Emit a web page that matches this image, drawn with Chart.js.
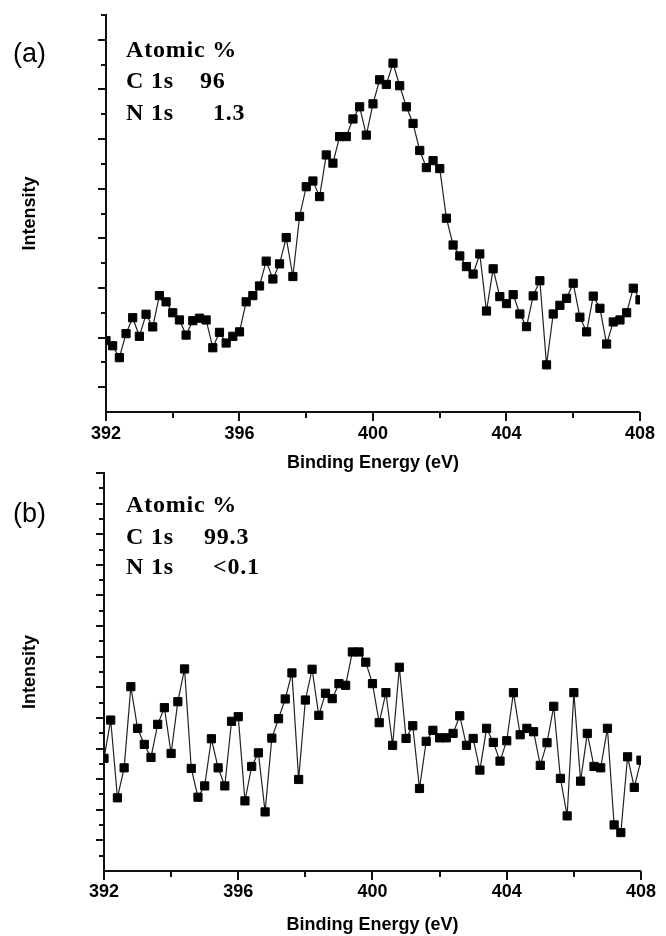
<!DOCTYPE html>
<html>
<head>
<meta charset="utf-8">
<title>XPS - Binding Energy</title>
<script src="https://cdn.jsdelivr.net/npm/chart.js@4.4.1/dist/chart.umd.min.js"></script>
<style>
	html, body { margin: 0; padding: 0; background: #fff; }
	#page { position: relative; width: 666px; height: 936px; overflow: hidden; }
	.box { position: absolute; left: 0; width: 666px; }
	.panel { position: absolute; font-family: 'Liberation Sans', Arial, sans-serif; font-size: 27px; line-height: 1; color: #000; }
	.note { position: absolute; font-family: 'Liberation Serif', 'Times New Roman', serif; font-size: 24px; font-weight: bold; line-height: 1; letter-spacing: 0.8px; color: #000; white-space: pre; }
</style>
</head>
<body>
<div id="page">
	<div class="box" style="top:0;height:480px;"><canvas id="chart-a"></canvas></div>
	<div class="box" style="top:460px;height:476px;"><canvas id="chart-b"></canvas></div>

	<div class="panel" style="left:13px;top:40px;">(a)</div>
	<div class="note" style="left:126px;top:37px;">Atomic %</div>
	<div class="note" style="left:126px;top:68px;">C 1s</div>
	<div class="note" style="left:200px;top:68px;">96</div>
	<div class="note" style="left:126px;top:100px;">N 1s</div>
	<div class="note" style="left:213px;top:100px;">1.3</div>

	<div class="panel" style="left:13px;top:500px;">(b)</div>
	<div class="note" style="left:126px;top:492px;">Atomic %</div>
	<div class="note" style="left:126px;top:524px;">C 1s</div>
	<div class="note" style="left:204px;top:524px;">99.3</div>
	<div class="note" style="left:126px;top:554px;">N 1s</div>
	<div class="note" style="left:213px;top:554px;">&lt;0.1</div>
</div>

<script>
// binding energy (eV), 0.2 eV steps
const energy = [
	392.0, 392.2, 392.4, 392.6, 392.8, 393.0, 393.2, 393.4, 393.6, 393.8,
	394.0, 394.2, 394.4, 394.6, 394.8, 395.0, 395.2, 395.4, 395.6, 395.8,
	396.0, 396.2, 396.4, 396.6, 396.8, 397.0, 397.2, 397.4, 397.6, 397.8,
	398.0, 398.2, 398.4, 398.6, 398.8, 399.0, 399.2, 399.4, 399.6, 399.8,
	400.0, 400.2, 400.4, 400.6, 400.8, 401.0, 401.2, 401.4, 401.6, 401.8,
	402.0, 402.2, 402.4, 402.6, 402.8, 403.0, 403.2, 403.4, 403.6, 403.8,
	404.0, 404.2, 404.4, 404.6, 404.8, 405.0, 405.2, 405.4, 405.6, 405.8,
	406.0, 406.2, 406.4, 406.6, 406.8, 407.0, 407.2, 407.4, 407.6, 407.8,
	408.0
];

// panel (a) intensity, arbitrary units (axis 0..16)
const intensityA = [
	2.88, 2.67, 2.19, 3.16, 3.80, 3.05, 3.94, 3.43, 4.69, 4.44,
	4.00, 3.71, 3.10, 3.68, 3.78, 3.71, 2.59, 3.21, 2.78, 3.05,
	3.23, 4.44, 4.69, 5.08, 6.08, 5.36, 5.97, 7.03, 5.46, 7.88,
	9.08, 9.31, 8.68, 10.36, 10.03, 11.10, 11.10, 11.81, 12.30, 11.16,
	12.42, 13.39, 13.20, 14.06, 13.15, 12.30, 11.63, 10.54, 9.85, 10.13,
	9.81, 7.81, 6.73, 6.29, 5.86, 5.56, 6.37, 4.07, 5.77, 4.65,
	4.37, 4.73, 3.95, 3.44, 4.68, 5.29, 1.90, 3.95, 4.30, 4.58,
	5.19, 3.82, 3.23, 4.67, 4.18, 2.74, 3.63, 3.71, 4.00, 4.99,
	4.52
];

// panel (b) intensity, arbitrary units (axis 0..26)
const intensityB = [
	7.36, 9.86, 4.78, 6.74, 12.04, 9.32, 8.27, 7.42, 9.58, 10.67,
	7.68, 11.06, 13.20, 6.70, 4.82, 5.56, 8.64, 6.74, 5.56, 9.78,
	10.08, 4.58, 6.83, 7.72, 3.86, 8.68, 9.95, 11.24, 12.94, 5.98,
	11.17, 13.18, 10.17, 11.61, 11.26, 12.24, 12.13, 14.31, 14.31, 13.64,
	12.24, 9.69, 11.65, 8.21, 13.31, 8.66, 9.49, 5.39, 8.47, 9.19,
	8.70, 8.70, 8.99, 10.14, 8.21, 8.66, 6.59, 9.32, 8.40, 7.18,
	8.51, 11.65, 8.90, 9.32, 9.10, 6.90, 8.38, 10.76, 6.05, 3.60,
	11.65, 5.87, 8.99, 6.83, 6.74, 9.32, 3.01, 2.51, 7.46, 5.46,
	7.24
];

const FONT = "'Liberation Sans', Arial, sans-serif";

// outward tick marks, long ones on the labelled / major positions
const tickMarks = {
	id: 'tickMarks',
	afterDraw(chart, args, opts) {
		const ctx = chart.ctx;
		const area = chart.chartArea;
		const x = chart.scales.x;
		const y = chart.scales.y;
		ctx.save();
		ctx.strokeStyle = '#111';
		ctx.lineWidth = 2;
		ctx.beginPath();
		x.ticks.forEach(function (t) {
			const px = Math.round(x.getPixelForValue(t.value));
			const len = t.value % 4 === 0 ? 9 : 6;
			ctx.moveTo(px, area.bottom);
			ctx.lineTo(px, area.bottom + len);
		});
		y.ticks.forEach(function (t) {
			if (t.value === 0) return;
			const py = Math.round(y.getPixelForValue(t.value));
			const len = t.value % 2 === opts.majorParity ? 8 : 5;
			ctx.moveTo(area.left, py);
			ctx.lineTo(area.left - len, py);
		});
		ctx.stroke();
		ctx.restore();
	}
};

function makeChart(id, values, cfg) {
	const ctx = document.getElementById(id).getContext('2d');
	return new Chart(ctx, {
		type: 'line',
		data: {
			labels: energy,
			datasets: [{
				data: values,
				borderColor: '#222',
				borderWidth: 1.2,
				pointStyle: 'rect',
				pointRadius: 5.8,
				pointBackgroundColor: '#000',
				pointBorderColor: '#000',
				pointBorderWidth: 1,
				tension: 0,
				clip: 0
			}]
		},
		options: {
			responsive: true,
			maintainAspectRatio: false,
			animation: false,
			events: [],
			layout: { padding: cfg.padding },
			plugins: {
				legend: { display: false },
				tooltip: { enabled: false },
				tickMarks: { majorParity: cfg.majorParity }
			},
			scales: {
				x: {
					type: 'linear',
					min: 392,
					max: 408,
					grid: { drawOnChartArea: false, drawTicks: false },
					border: { color: '#111', width: 2 },
					ticks: {
						stepSize: 2,
						autoSkip: false,
						maxRotation: 0,
						padding: cfg.labelPad,
						color: '#000',
						font: { family: FONT, size: 18, weight: 'bold' },
						callback: function (v) { return v % 4 === 0 ? v : ''; }
					},
					title: {
						display: true,
						text: 'Binding Energy (eV)',
						color: '#000',
						font: { family: FONT, size: 18, weight: 'bold' },
						padding: { top: 0, bottom: 0 }
					},
					afterFit: function (scale) { scale.height = cfg.xHeight; }
				},
				y: {
					min: 0,
					max: cfg.yMax,
					grid: { drawOnChartArea: false, drawTicks: false },
					border: { color: '#111', width: 2 },
					ticks: { stepSize: 1, display: false },
					title: {
						display: true,
						text: 'Intensity',
						color: '#000',
						font: { family: FONT, size: 18, weight: 'bold' },
						padding: { top: 19, bottom: 0 }
					},
					afterFit: function (scale) { scale.width = cfg.yWidth; }
				}
			}
		},
		plugins: [tickMarks]
	});
}

document.addEventListener('DOMContentLoaded', function () {
	makeChart('chart-a', intensityA, {
		yMax: 16, majorParity: 1, yWidth: 106, xHeight: 62, labelPad: 11,
		padding: { top: 15, right: 16, bottom: 6, left: 0 }
	});
	makeChart('chart-b', intensityB, {
		yMax: 26, majorParity: 0, yWidth: 104, xHeight: 65, labelPad: 10,
		padding: { top: 13, right: 20, bottom: 0, left: 0 }
	});
});
</script>
</body>
</html>
